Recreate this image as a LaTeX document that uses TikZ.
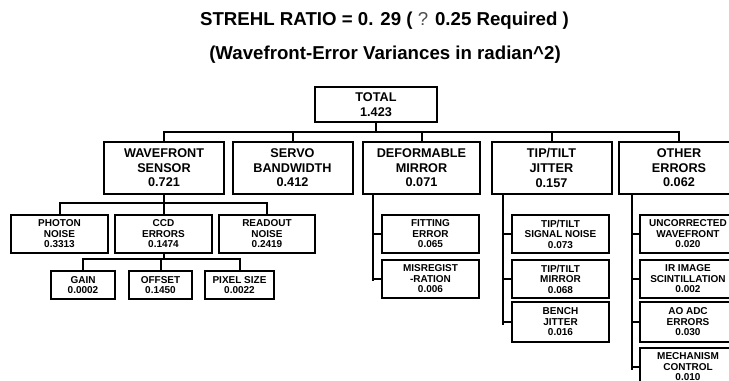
\documentclass[tikz,border=0pt]{standalone}
\usepackage{fontspec}
\setmainfont{Liberation Sans}

\begin{document}
\begin{tikzpicture}[x=0.75pt,y=0.75pt,yscale=-1,xscale=1,
  wire/.style={line width=1.5pt},
  rail/.style={line width=1.9pt},
  bigbox/.style={draw,line width=1.5pt,inner sep=0pt,align=center,minimum width=90pt,minimum height=39pt,font=\bfseries\fontsize{9.5}{10.9}\selectfont},
  midbox/.style={draw,line width=1.5pt,inner sep=0pt,align=center,minimum width=72.75pt,minimum height=28.5pt,font=\bfseries\fontsize{7.5}{7.9}\selectfont},
  lowbox/.style={midbox,minimum height=21pt}]
\useasboundingbox (0,0) rectangle (729,381);
\clip (0,0) rectangle (729,381);

% Text Node
\draw (384.5,21) node [font=\bfseries\fontsize{14}{16}\selectfont] (title) {STREHL RATIO = 0. 29 ( {\mdseries\color{black!70}?} 0.25 Required )};
% Text Node
\draw (385,55) node [font=\bfseries\fontsize{14}{16}\selectfont] (subtitle) {(Wavefront-Error Variances in radian\^{}2)};

%Shape: Rectangle
\node [bigbox,minimum width=91.5pt,minimum height=26.25pt] (total) at (376,104.5) {TOTAL\\1.423};
%Shape: Rectangle
\node [bigbox] (wfs) at (164,168) {WAVEFRONT\\SENSOR\\0.721};
\node [bigbox] (servo) at (292.5,168) {SERVO\\BANDWIDTH\\0.412};
\node [bigbox,minimum width=87.75pt] (dm) at (421.5,168) {DEFORMABLE\\MIRROR\\0.071};
\node [bigbox] (tt) at (551.5,168) {TIP/TILT\\JITTER\\0.157};
\node [bigbox] (other) at (679,168) {OTHER\\ERRORS\\0.062};

%Shape: Rectangle
\node [midbox] (photon) at (59.5,234) {PHOTON\\NOISE\\0.3313};
\node [midbox] (ccd) at (163.5,234) {CCD\\ERRORS\\0.1474};
\node [midbox,minimum width=72pt] (readout) at (267,234) {READOUT\\NOISE\\0.2419};
%Shape: Rectangle
\node [lowbox,minimum width=48pt] (gain) at (83,285) {GAIN\\0.0002};
\node [lowbox,minimum width=47.25pt] (offset) at (160.5,285) {OFFSET\\0.1450};
\node [lowbox,minimum width=51.75pt] (pixel) at (239.5,285) {PIXEL SIZE\\0.0022};

%Shape: Rectangle
\node [midbox] (fit) at (430.5,234) {FITTING\\ERROR\\0.065};
\node [midbox] (misreg) at (430.5,279) {MISREGIST\\-RATION\\0.006};

%Shape: Rectangle
\node [midbox] (ttnoise) at (560.5,234) {TIP/TILT\\SIGNAL NOISE\\0.073};
\node [midbox] (ttmirror) at (560.5,279) {TIP/TILT\\MIRROR\\0.068};
\node [midbox,minimum height=30pt] (bench) at (560.5,322) {BENCH\\JITTER\\0.016};

%Shape: Rectangle
\node [midbox,minimum width=72pt] (uncorr) at (688,234) {UNCORRECTED\\WAVEFRONT\\0.020};
\node [midbox,minimum width=72pt] (scint) at (688,279) {IR IMAGE\\SCINTILLATION\\0.002};
\node [midbox,minimum width=72pt,minimum height=30pt] (adc) at (688,322) {AO ADC\\ERRORS\\0.030};
\node [midbox,minimum width=72pt,minimum height=28.5pt] (mech) at (688,367) {MECHANISM\\CONTROL\\0.010};

%Straight Lines
\coordinate (topbus) at (376,132);
\draw [wire] (total.south) -- (topbus);
\draw [wire] (wfs.north) |- (topbus) -| (other.north);
\foreach \n in {servo,dm,tt}
  \draw [wire] (\n.north) -- (\n.north |- topbus);

%Straight Lines
\coordinate (wfsbus) at (164,203);
\draw [wire] (wfs.south) -- (wfsbus);
\draw [wire] (photon.north) |- (wfsbus) -| (readout.north);
\draw [wire] (ccd.north) -- (ccd.north |- wfsbus);

%Straight Lines
\coordinate (ccdbus) at (163.5,259);
\draw [wire] (ccd.south) -- (ccdbus);
\draw [wire] (gain.north) |- (ccdbus) -| (pixel.north);
\draw [wire] (offset.north) -- (offset.north |- ccdbus);

%Straight Lines
\coordinate (dmrail) at (373,281);
\draw [rail] (dm.south -| dmrail) -- (dmrail);
\foreach \n in {fit,misreg}
  \draw [wire] (\n.west) -- (\n.west -| dmrail);

%Straight Lines
\coordinate (ttrail) at (503,325);
\draw [rail] (tt.south -| ttrail) -- (ttrail);
\foreach \n in {ttnoise,ttmirror,bench}
  \draw [wire] (\n.west) -- (\n.west -| ttrail);

%Straight Lines
\coordinate (otherrail) at (632,370);
\draw [rail] (other.south -| otherrail) -- (otherrail);
\foreach \n in {uncorr,scint,adc,mech}
  \draw [wire] (\n.west) -- (\n.west -| otherrail);

\end{tikzpicture}
\end{document}
